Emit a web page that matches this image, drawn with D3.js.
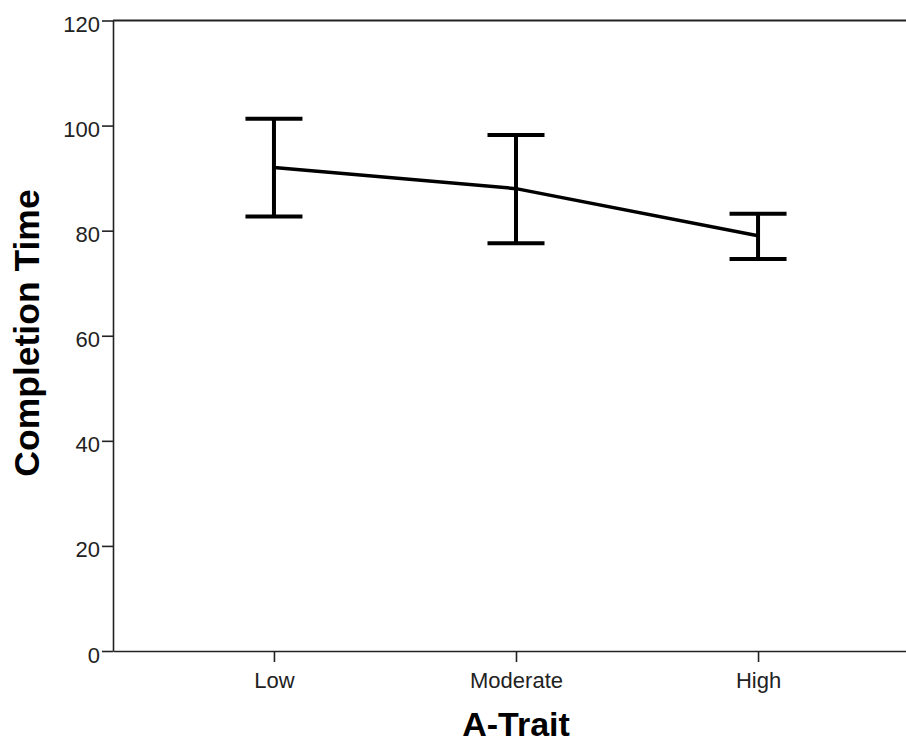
<!DOCTYPE html>
<html>
<head>
<meta charset="utf-8">
<script src="https://cdn.jsdelivr.net/npm/d3@7"></script>
<style>
  html, body { margin: 0; padding: 0; background: #fff; }
  svg { display: block; }
</style>
</head>
<body>
<svg id="chart" width="906" height="745"></svg>
<script>
const categories = ["Low", "Moderate", "High"];
const means = [92.0, 88.0, 79.05];
const upper = [101.3, 98.2, 83.2];
const lower = [82.7, 77.6, 74.6];
const yTicks = [0, 20, 40, 60, 80, 100, 120];
const xTitle = "A-Trait";
const yTitle = "Completion Time";

const svg = d3.select("#chart");
const font = "'Liberation Sans', Arial, sans-serif";

const x = d3.scalePoint().domain(categories).range([113, 919]).padding(0.665);
const y = d3.scaleLinear().domain([0, 120]).range([651, 20.5]);

// top frame line
svg.append("line")
  .attr("x1", 113).attr("x2", 906)
  .attr("y1", y(120)).attr("y2", y(120))
  .attr("stroke", "#222").attr("stroke-width", 2);

// y axis
const gy = svg.append("g").attr("transform", "translate(113,0)")
  .call(d3.axisLeft(y).tickValues(yTicks).tickSize(11).tickSizeOuter(0).tickPadding(2));
gy.select(".domain").attr("stroke", "#222").attr("stroke-width", 1.6);
gy.selectAll(".tick line").attr("stroke", "#222").attr("stroke-width", 1.6);
gy.selectAll(".tick text").attr("font-family", font).attr("font-size", 22)
  .attr("fill", "#222").attr("dy", "0.5em");

// x axis
const gx = svg.append("g").attr("transform", `translate(0,${y(0)})`)
  .call(d3.axisBottom(x).tickSize(11).tickSizeOuter(0).tickPadding(10));
gx.select(".domain").attr("stroke", "#222").attr("stroke-width", 1.6);
gx.selectAll(".tick line").attr("stroke", "#222").attr("stroke-width", 1.6);
gx.selectAll(".tick text").attr("font-family", font).attr("font-size", 22).attr("fill", "#222");

// error bars
const capHalf = 28.5;
const eb = svg.append("g").attr("stroke", "#000").attr("stroke-width", 4).attr("fill", "none");
categories.forEach((c, i) => {
  const cx = x(c);
  eb.append("line").attr("x1", cx).attr("x2", cx).attr("y1", y(upper[i])).attr("y2", y(lower[i]));
  eb.append("line").attr("x1", cx - capHalf).attr("x2", cx + capHalf).attr("y1", y(upper[i])).attr("y2", y(upper[i]));
  eb.append("line").attr("x1", cx - capHalf).attr("x2", cx + capHalf).attr("y1", y(lower[i])).attr("y2", y(lower[i]));
});

// mean line
const line = d3.line().x((d, i) => x(categories[i])).y(d => y(d));
svg.append("path").datum(means)
  .attr("d", line)
  .attr("fill", "none").attr("stroke", "#000").attr("stroke-width", 3.5)
  .attr("stroke-linejoin", "round");

// titles
svg.append("text")
  .attr("x", 516).attr("y", 736)
  .attr("text-anchor", "middle")
  .attr("font-family", font).attr("font-weight", "bold").attr("font-size", 34)
  .attr("fill", "#000")
  .text(xTitle);

svg.append("text")
  .attr("transform", "translate(38.5,333) rotate(-90)")
  .attr("text-anchor", "middle")
  .attr("font-family", font).attr("font-weight", "bold").attr("font-size", 35.5)
  .attr("fill", "#000")
  .text(yTitle);
</script>
</body>
</html>
